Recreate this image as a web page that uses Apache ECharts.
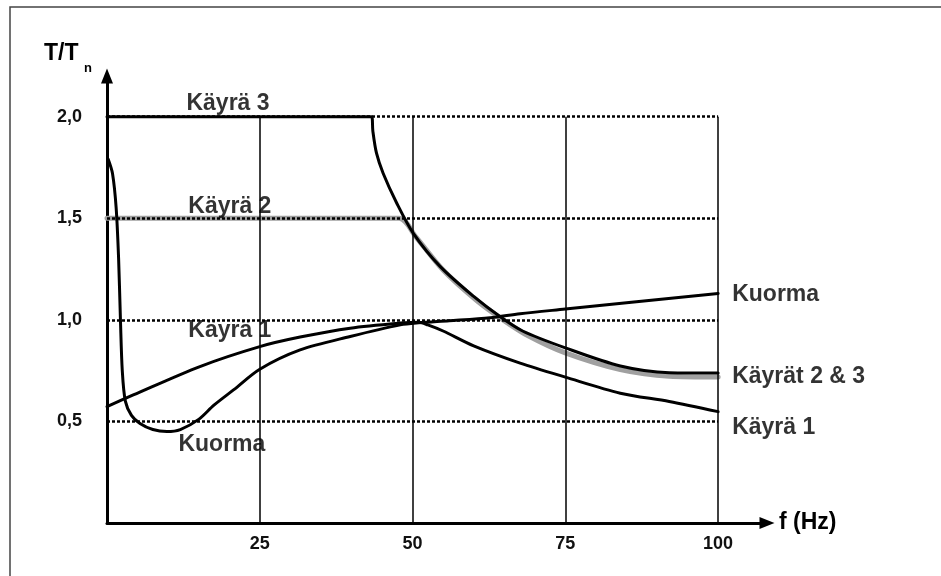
<!DOCTYPE html>
<html>
<head>
<meta charset="utf-8">
<script src="https://cdn.jsdelivr.net/npm/echarts@6/dist/echarts.min.js"></script>
<style>
  html, body { margin: 0; padding: 0; background: #fff; }
  #main { width: 941px; height: 576px; }
</style>
</head>
<body>
<div id="main"></div>
<script>
// tick values (grid lines stop at the last tick)
const xTicks = [25, 50, 75, 100];
const yTicks = [0.5, 1.0, 1.5, 2.0];

// [f (Hz), T/Tn]
const kayra3 = [[0, 2.0], [43.3, 2.0], [43.5, 1.93], [44.1, 1.82], [45.2, 1.72], [47.4, 1.575], [50.1, 1.427], [54.5, 1.263],
  [60, 1.115], [64.3, 1.016], [68, 0.945], [75, 0.862], [84, 0.773], [92, 0.74], [100, 0.738]];
const kayra2 = [[0, 1.5], [47.8, 1.5], [50.5, 1.41], [55, 1.245], [60.5, 1.095], [64.8, 1.0], [69, 0.92],
  [75, 0.837], [84, 0.755], [92, 0.722], [100, 0.718]];
const kayra1 = [[0, 0.573], [4.3, 0.63], [15.2, 0.77], [25, 0.868], [31.6, 0.915], [39.8, 0.959], [48, 0.984],
  [51, 0.988], [52.5, 0.975], [55, 0.945], [60, 0.872], [67.6, 0.787], [75, 0.718], [84, 0.639], [92, 0.598], [100, 0.548]];
const kuorma = [[0.2, 1.79], [0.9, 1.72], [1.5, 1.55], [1.9, 1.3], [2.2, 1.0], [2.5, 0.75], [3.0, 0.6], [4.0, 0.53],
  [5.4, 0.49], [7.5, 0.46], [9.8, 0.45], [12, 0.46], [15, 0.51], [17.5, 0.58], [20.7, 0.655], [25, 0.757],
  [31.6, 0.852], [39.8, 0.918], [48, 0.975], [51, 0.985], [56, 0.995], [62.7, 1.01], [67.6, 1.03], [75, 1.053], [100, 1.13]];

const labelTexts = ['Käyrä 3', 'Käyrä 2', 'Käyrä 1', 'Kuorma', 'Kuorma', 'Käyrät 2 & 3', 'Käyrä 1'];

var chartDom = document.getElementById('main');
var myChart = echarts.init(chartDom);

const FONT = 'Liberation Sans, Arial, sans-serif';
const xMax = xTicks[xTicks.length - 1];
const yMax = yTicks[yTicks.length - 1];

// grid lines as markLine pairs in data space
const gridLines = [];
xTicks.forEach(t => gridLines.push([
  { coord: [t, 0], lineStyle: { type: 'solid', width: 1.5 } },
  { coord: [t, yMax] }
]));
yTicks.forEach(v => gridLines.push([
  { coord: [0, v], lineStyle: { type: [3, 2], width: 2.5 } },
  { coord: [xMax, v] }
]));

// text spots: [f, T/Tn, align]
const spots = [[19.8, 2.064, 'center'], [20.1, 1.557, 'center'], [20.1, 0.946, 'center'], [18.8, 0.384, 'center'],
  [102.3, 1.123, 'left'], [102.3, 0.72, 'left'], [102.3, 0.468, 'left']];

function curve(name, data, color, width, z) {
  return {
    name, type: 'line', data, z,
    showSymbol: false, symbol: 'none',
    smooth: 0.3,
    lineStyle: { color, width, cap: 'round', join: 'round' },
    silent: true
  };
}

var option = {
  animation: false,
  backgroundColor: '#fff',
  textStyle: { fontFamily: FONT },
  grid: { left: 107, right: 174, top: 76, bottom: 53 },
  xAxis: {
    type: 'value', min: 0, max: 108,
    name: 'f (Hz)', nameLocation: 'end', nameGap: 12,
    nameTextStyle: { fontSize: 23, fontWeight: 'bold', color: '#000', align: 'left', verticalAlign: 'middle' },
    axisLine: { lineStyle: { color: '#000', width: 3 }, symbol: ['none', 'triangle'], symbolSize: [12, 15] },
    axisTick: { show: false },
    splitLine: { show: false },
    axisLabel: {
      customValues: xTicks, margin: 12,
      fontSize: 18, fontWeight: 'bold', color: '#111', fontFamily: FONT
    }
  },
  yAxis: {
    type: 'value', min: 0, max: 2.2,
    axisLine: { show: true, lineStyle: { color: '#000', width: 3 }, symbol: ['none', 'triangle'], symbolSize: [12, 15] },
    axisTick: { show: false },
    splitLine: { show: false },
    axisLabel: {
      customValues: yTicks, margin: 25,
      fontSize: 18, fontWeight: 'bold', color: '#111', fontFamily: FONT,
      formatter: v => v.toFixed(1).replace('.', ',')
    }
  },
  graphic: [
    { type: 'polyline', shape: { points: [[10, 576], [10, 7], [941, 7]] }, style: { stroke: '#444', lineWidth: 1.5, fill: null }, silent: true },
    { type: 'text', left: 44, top: 42, style: { text: 'T/T', fontSize: 23, fontWeight: 'bold', fill: '#000', fontFamily: FONT } },
    { type: 'text', left: 84, top: 62, style: { text: 'n', fontSize: 13, fontWeight: 'bold', fill: '#000', fontFamily: FONT } }
  ],
  series: [
    {
      name: 'grid', type: 'line', data: [], z: 1, silent: true,
      markLine: {
        silent: true, symbol: 'none', animation: false,
        label: { show: false },
        lineStyle: { color: '#000' },
        data: gridLines
      }
    },
    curve('Käyrä 2', kayra2, '#a0a0a0', 5, 2),
    curve('Käyrä 3', kayra3, '#000', 3, 3),
    curve('Käyrä 1', kayra1, '#000', 3, 3),
    curve('Kuorma', kuorma, '#000', 3, 3),
    {
      name: 'labels', type: 'scatter', z: 5, silent: true,
      symbolSize: 0,
      data: spots.map((s, i) => ({
        value: [s[0], s[1]],
        label: {
          show: true, position: 'inside', formatter: labelTexts[i],
          align: s[2], verticalAlign: 'middle',
          fontSize: 23, fontWeight: 'bold', color: '#000', fontFamily: FONT
        }
      }))
    }
  ]
};

option && myChart.setOption(option);
</script>
</body>
</html>
